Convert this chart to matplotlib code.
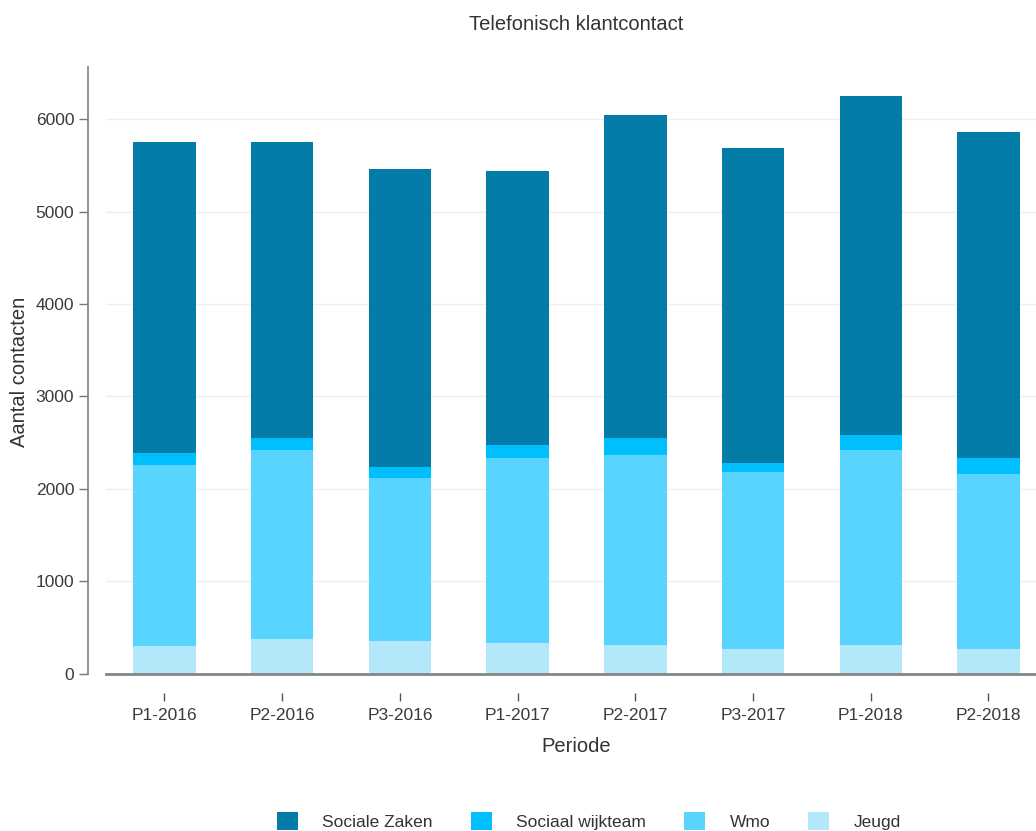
import matplotlib
matplotlib.use("Agg")
import matplotlib.pyplot as plt
from matplotlib.patches import Patch
import numpy as np

plt.rcParams['font.family'] = ['Liberation Sans', 'DejaVu Sans']

# Periods on the x axis
periods = ["P1-2016", "P2-2016", "P3-2016", "P1-2017",
           "P2-2017", "P3-2017", "P1-2018", "P2-2018"]

# Number of phone contacts per domain (stacked bottom to top)
jeugd = [300, 375, 350, 325, 305, 270, 305, 270]
wmo = [1955, 2045, 1770, 2010, 2065, 1910, 2110, 1890]
sociaal_wijkteam = [135, 135, 115, 135, 175, 100, 165, 175]
sociale_zaken = [3360, 3195, 3225, 2975, 3505, 3405, 3675, 3525]

y_ticks = [0, 1000, 2000, 3000, 4000, 5000, 6000]

series = [
    ("Jeugd", jeugd, "#b3e8fb"),
    ("Wmo", wmo, "#59d4fe"),
    ("Sociaal wijkteam", sociaal_wijkteam, "#00bfff"),
    ("Sociale Zaken", sociale_zaken, "#037da8"),
]

W, H = 1036, 831
fig = plt.figure(figsize=(W / 100, H / 100), dpi=100)
ax = fig.add_axes([105.6 / W, (H - 673.5) / H, (1047.3 - 105.6) / W, (673.5 - 66.7) / H])

x = np.arange(len(periods))
bottom = np.zeros(len(periods))
for name, vals, color in series:
    ax.bar(x, vals, width=0.53, bottom=bottom, color=color, linewidth=0, zorder=3)
    bottom += np.array(vals)

ax.set_xlim(-0.5, len(periods) - 0.5)
ax.set_ylim(0, 6570)
ax.set_yticks(y_ticks)
ax.set_yticklabels([str(t) for t in y_ticks])
ax.set_xticks(x)
ax.set_xticklabels(periods)

# light horizontal gridlines
for t in y_ticks[1:]:
    ax.axhline(t, color="#efefef", linewidth=1.0, zorder=1)

# baseline
ax.axhline(0, color="#858585", linewidth=2.0, zorder=4, clip_on=False)

for side in ("top", "right"):
    ax.spines[side].set_visible(False)
ax.spines["bottom"].set_position(("outward", 13.7))
ax.spines["bottom"].set_visible(False)
ax.spines["left"].set_position(("outward", 13))
ax.spines["left"].set_color("#7f7f7f")
ax.spines["left"].set_linewidth(1.2)

ax.tick_params(axis="y", length=6.5, width=1.0, color="#777777", pad=3,
               labelsize=12.5, labelcolor="#3a3a3a")
ax.tick_params(axis="x", length=6, width=1.0, color="#555555", pad=5.5,
               labelsize=12.5, labelcolor="#3a3a3a")

fig.text(576.5 / W, 1 - 24 / H, "Telefonisch klantcontact", ha="center", va="center",
         fontsize=14.5, color="#333333")
fig.text(20 / W, 1 - 372 / H, "Aantal contacten", ha="center", va="center",
         rotation=90, fontsize=14.5, color="#333333")
fig.text(576 / W, 1 - 747 / H, "Periode", ha="center", va="center",
         fontsize=14.5, color="#333333")

handles = [Patch(facecolor=c, edgecolor="none", label=n) for n, _, c in reversed(series)]
fig.legend(handles=handles, loc="center", bbox_to_anchor=(589 / W, 1 - 821 / H),
           ncol=4, frameon=False, fontsize=12.5, handlelength=1.2, handleheight=1.2,
           handletextpad=1.4, columnspacing=2.2, labelcolor="#333333")

fig.savefig("out.png", dpi=100)
